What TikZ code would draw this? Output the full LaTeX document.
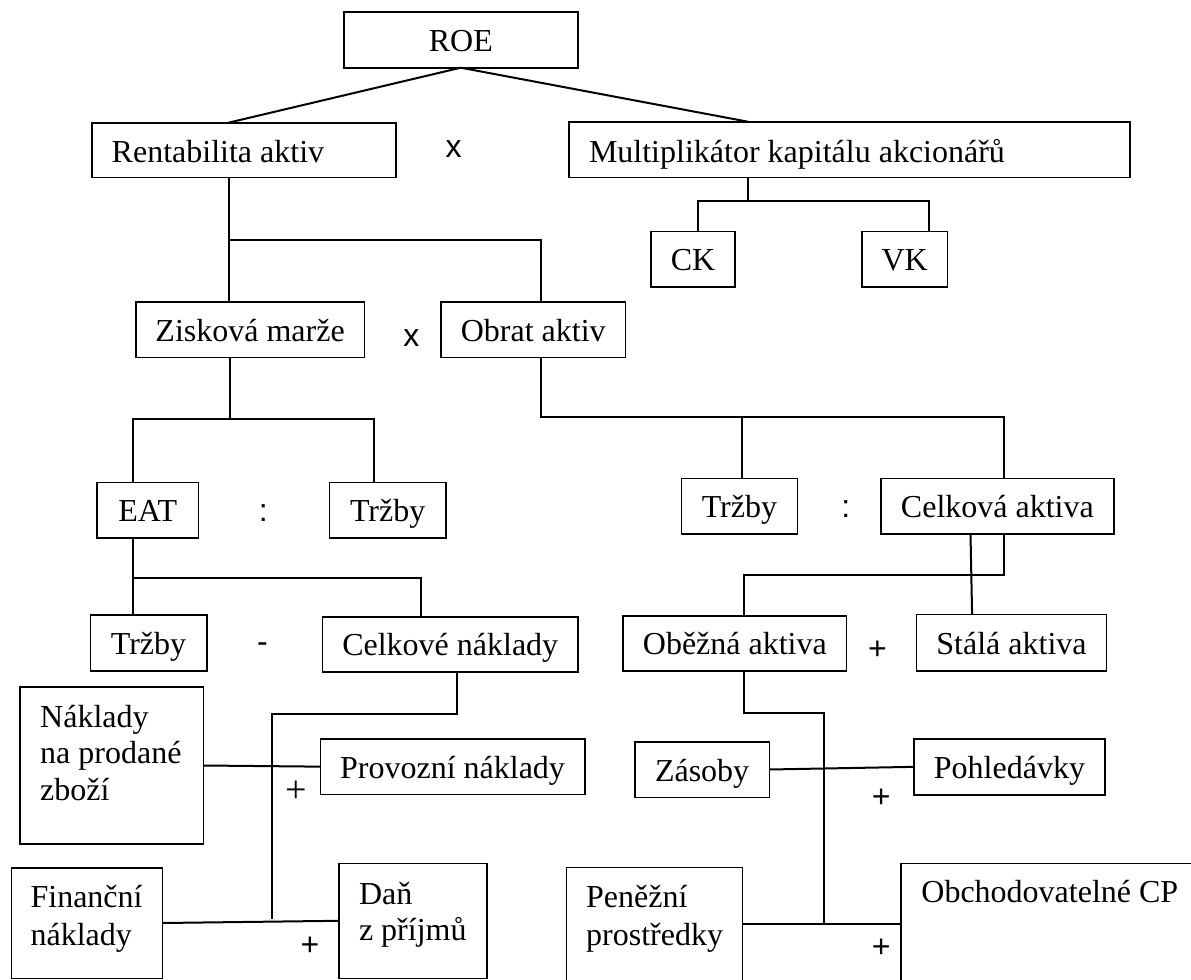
\documentclass[tikz,border=0pt]{standalone}
\usepackage{fontspec}
\setmainfont{Liberation Serif}
\newfontfamily\signfont{Liberation Sans}
\usetikzlibrary{fit,calc}
\tikzset{
  box/.style={draw, line width=0.8pt, inner sep=0pt, outer sep=0pt},
  openbox/.style={draw=none, inner sep=0pt, outer sep=0pt},
  boxline/.style={line width=0.8pt},
  txt/.style={inner sep=0pt, outer sep=0pt, anchor=base west, font=\fontsize{16}{18.4}\selectfont},
  ctxt/.style={inner sep=0pt, outer sep=0pt, anchor=base, font=\fontsize{16}{18.4}\selectfont},
  sign/.style={inner sep=0pt, outer sep=0pt, anchor=base, font=\signfont\fontsize{16}{18}\selectfont},
  conn/.style={line width=1pt},
}
\newcommand{\ctext}[2]{\node[ctxt] (#1t) at ($(#1.center)+(0,11.5)$) {#2};}
\begin{document}
\begin{tikzpicture}[x=0.5pt, y=-0.5pt]
\useasboundingbox (0,0) rectangle (1191,980);

% boxes
\node[box, fit={(343.7,12) (577.9,67.7)}] (roe) {};
\node[box, fit={(91.8,122.7) (396,177.3)}] (ra) {};
\node[box, fit={(568.9,121.7) (1129.8,177.3)}] (mk) {};
\node[box, fit={(651,231.3) (735,286.7)}] (ck) {};
\node[box, fit={(861.8,231.3) (947.5,286.7)}] (vk) {};
\node[box, fit={(135.9,301.7) (364.3,357.3)}] (zm) {};
\node[box, fit={(440.9,301.7) (625.6,357.3)}] (oa) {};
\node[box, fit={(96.8,482.3) (198.6,538)}] (eat) {};
\node[box, fit={(329.5,482.3) (445.9,538)}] (tr1) {};
\node[box, fit={(681.5,478.3) (797.4,533.7)}] (tr3) {};
\node[box, fit={(881.1,478.3) (1113.7,533.7)}] (ca) {};
\node[box, fit={(90.3,614.7) (206.7,670.7)}] (tr2) {};
\node[box, fit={(322.6,616.7) (577.9,672)}] (cn) {};
\node[box, fit={(623.2,615.7) (846.5,670.7)}] (ob) {};
\node[box, fit={(916.5,614.3) (1106.5,670.7)}] (st) {};
\node[box, fit={(19.9,687) (203.6,844)}] (nk) {};
\node[box, fit={(320.3,739) (584.8,794.3)}] (pn) {};
\node[box, fit={(634.9,741.7) (769.3,797.3)}] (zs) {};
\node[box, fit={(914.1,739) (1104.9,794.7)}] (ph) {};
\node[box, fit={(11.5,867.7) (162.6,978.3)}] (fn) {};
\node[box, fit={(338.7,863.3) (486.8,978.3)}] (dn) {};
\node[openbox, fit={(566.4,867.3) (742.3,980)}] (pp) {};
\draw[boxline] (pp.south west) -- (pp.north west) -- (pp.north east) -- (pp.south east);
\node[openbox, fit={(901.2,863.3) (1191,980)}] (oc) {};
\draw[boxline] (oc.south west) |- (oc.north east);

% centred texts
\ctext{roe}{ROE}
\ctext{ck}{CK}
\ctext{vk}{VK}
\ctext{zm}{Zisková marže}
\ctext{oa}{Obrat aktiv}
\ctext{eat}{EAT}
\ctext{tr1}{Tržby}
\ctext{tr3}{Tržby}
\ctext{ca}{Celková aktiva}
\ctext{tr2}{Tržby}
\ctext{cn}{Celkové náklady}
\ctext{ob}{Oběžná aktiva}
\ctext{st}{Stálá aktiva}
\ctext{pn}{Provozní náklady}
\ctext{zs}{Zásoby}
\ctext{ph}{Pohledávky}

% left-aligned texts
\node[txt] (rat) at (111.7,162.7) {Rentabilita aktiv};
\node[txt] (mkt) at (589,162.7) {Multiplikátor kapitálu akcionářů};
\node[txt] (nk1) at (40.2,727.5) {Náklady};
\node[txt] (nk2) at (40.2,763.5) {na prodané};
\node[txt] (nk3) at (40.2,800) {zboží};
\node[txt] (fn1) at (30.6,907.7) {Finanční};
\node[txt] (fn2) at (30.6,945) {náklady};
\node[txt] (dn1) at (359,904) {Daň};
\node[txt] (dn2) at (359,940) {z příjmů};
\node[txt] (pp1) at (586.2,907.7) {Peněžní};
\node[txt] (pp2) at (586.2,945) {prostředky};
\node[txt] (oct) at (921.4,902.7) {Obchodovatelné CP};

% operator signs
\node[sign] (s1) at (453.7,157.3) {x};
\node[sign] (s2) at (411.4,346) {x};
\node[sign] (s3) at (263.3,521.3) {:};
\node[sign] (s4) at (262.5,652) {-};
\node[sign] (s5) at (845.7,517) {:};
\node[sign] (s6) at (877.5,659.4) {+};
\node[sign, font=\fontsize{19}{20}\selectfont] (s7) at (296.7,802.7) {+};
\node[sign] (s8) at (310,955.4) {+};
\node[sign] (s9) at (881.1,807) {+};
\node[sign] (s10) at (881.2,957) {+};

% junctions
\coordinate (j3) at (747.9,201);
\coordinate (j4) at (228.5,240);
\coordinate (j5) at (229.6,419.3);
\coordinate (j6) at (540.8,417.3);
\coordinate (j6b) at (742.3,417.3);
\coordinate (j7) at (133,577.7);
\coordinate (j8) at (1003.5,575);
\coordinate (j9) at (456.6,714.3);
\coordinate (e9) at (272.1,918.7);
\coordinate (j10) at (743.5,712.7);
\coordinate (e10) at (824.4,924.3);

% connectors
\draw[conn] (roe.south) -- (ra.north -| j4);
\draw[conn] (roe.south) -- (mk.north -| j3);
\draw[conn] (mk.south -| j3) -- (j3);
\draw[conn] ($(ck.north)+(5.4,0)$) |- (j3) -| ($(vk.north)+(24.35,0)$);
\draw[conn] (ra.south -| j4) -- (j4) -- (zm.north -| j4);
\draw[conn] (j4) -| ($(oa.north)+(7.55,0)$);
\draw[conn] (zm.south -| j5) -- (j5);
\draw[conn] ($(eat.north)+(-14.9,0)$) |- (j5) -| ($(tr1.north)+(-13.8,0)$);
\draw[conn] (oa.south -| j6) -- (j6) -| ($(ca.north)+(6.1,0)$);
\draw[conn] (tr3.north -| j6b) -- (j6b);
\draw[conn] (eat.south -| j7) -- (j7) -| ($(cn.north)+(-29.3,0)$);
\draw[conn] (j7) -- (tr2.north -| j7);
\draw[conn] (ca.south -| j8) -- (j8) -| ($(ob.north)+(8.65,0)$);
\draw[conn] ($(ca.south)+(-26.9,0)$) -- ($(st.north)+(-39.4,0)$);
\draw[conn] (cn.south -| j9) -- (j9) -| (e9);
\draw[conn] (nk.east) -- (pn.west);
\draw[conn] (fn.east) -- (dn.west);
\draw[conn] (ob.south -| j10) -- (j10) -| (e10);
\draw[conn] (zs.east) -- (ph.west);
\draw[conn] (pp.east) -- (oc.west |- pp.east);
\end{tikzpicture}
\end{document}
